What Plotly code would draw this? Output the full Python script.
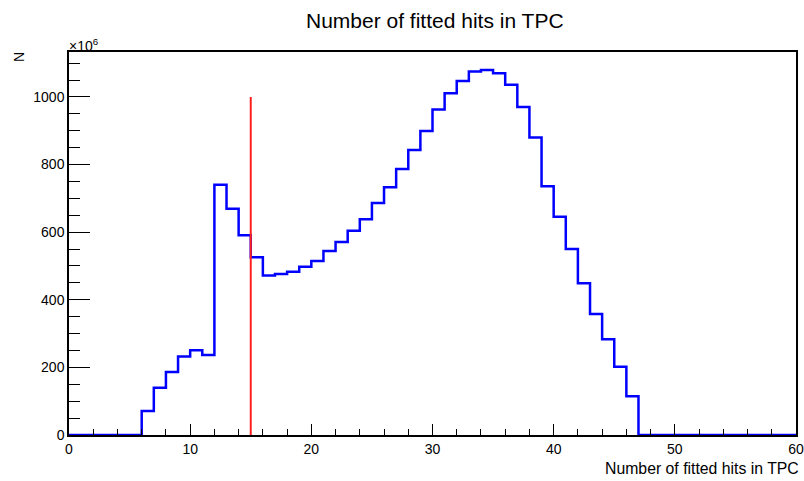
import plotly.graph_objects as go

# Histogram of fitted TPC hits: 60 unit-width bins, counts in units of 10^6
bin_edges = list(range(0, 61))
counts = [
    0, 0, 0, 0, 0, 0, 71, 140, 186, 232,
    251, 237, 740, 669, 591, 526, 472, 476, 483, 498,
    515, 544, 571, 604, 638, 686, 733, 787, 843, 899,
    963, 1011, 1047, 1075, 1080, 1070, 1036, 970, 880, 736,
    646, 550, 449, 358, 283, 202, 115, 0, 0, 0,
    0, 0, 0, 0, 0, 0, 0, 0, 0, 0,
]
# Cut marker
cut_x = 15
cut_top = 1000

x_ticks = [0, 10, 20, 30, 40, 50, 60]
y_ticks = [0, 200, 400, 600, 800, 1000]

step_x = bin_edges
step_y = counts + [counts[-1]]

FONT = "Liberation Sans, Arial, Helvetica, sans-serif"

fig = go.Figure()
fig.add_trace(go.Scatter(
    x=step_x, y=step_y, mode="lines", line_shape="hv",
    line=dict(color="#0000ff", width=2.5), hoverinfo="skip", showlegend=False,
))
fig.add_trace(go.Scatter(
    x=[cut_x, cut_x], y=[0, cut_top], mode="lines",
    line=dict(color="#ff2020", width=2), hoverinfo="skip", showlegend=False,
))

W, H = 804, 481
L, R, T, B = 69, 8, 52, 46
pw, ph = W - L - R, H - T - B


def px(xp):
    return (xp - L) / pw


def py(yp):
    return (H - B - yp) / ph


fig.update_layout(
    width=W, height=H,
    margin=dict(l=L, r=R, t=T, b=B, pad=0),
    paper_bgcolor="white", plot_bgcolor="white",
    font=dict(family=FONT, color="#000000", size=14),
    xaxis=dict(
        range=[0, 60], tickvals=x_ticks, ticks="inside", ticklen=11, tickwidth=1,
        tickcolor="#000000", showgrid=False, zeroline=False, automargin=False,
        ticklabeloverflow="allow",
        showline=True, linecolor="#000000", linewidth=1.5, mirror=True,
        tickfont=dict(size=14, family=FONT),
        minor=dict(dtick=2, ticks="inside", ticklen=6, tickcolor="#000000", showgrid=False),
    ),
    yaxis=dict(
        range=[0, 1133], tickvals=y_ticks, tickformat="d", ticks="inside", ticklen=21,
        tickwidth=1, tickcolor="#000000", showgrid=False, zeroline=False, automargin=False,
        ticklabeloverflow="allow",
        showline=True, linecolor="#000000", linewidth=1.5, mirror=True,
        tickfont=dict(size=14, family=FONT),
        minor=dict(dtick=50, ticks="inside", ticklen=11, tickcolor="#000000", showgrid=False),
    ),
    annotations=[
        dict(text="Number of fitted hits in TPC", xref="paper", yref="paper",
             x=px(434.5), y=py(20), xanchor="center", yanchor="middle",
             showarrow=False, font=dict(size=21, family=FONT)),
        dict(text="×10<sup>6</sup>", xref="paper", yref="paper",
             x=px(67), y=py(45), xanchor="left", yanchor="middle",
             showarrow=False, font=dict(size=14, family=FONT)),
        dict(text="N", xref="paper", yref="paper", textangle=-90,
             x=px(19), y=py(57), xanchor="center", yanchor="middle",
             showarrow=False, font=dict(size=14, family=FONT)),
        dict(text="Number of fitted hits in TPC", xref="paper", yref="paper",
             x=px(801), y=py(468), xanchor="right", yanchor="middle",
             showarrow=False, font=dict(size=15.8, family=FONT)),
    ],
)

fig.write_html("out.html")
